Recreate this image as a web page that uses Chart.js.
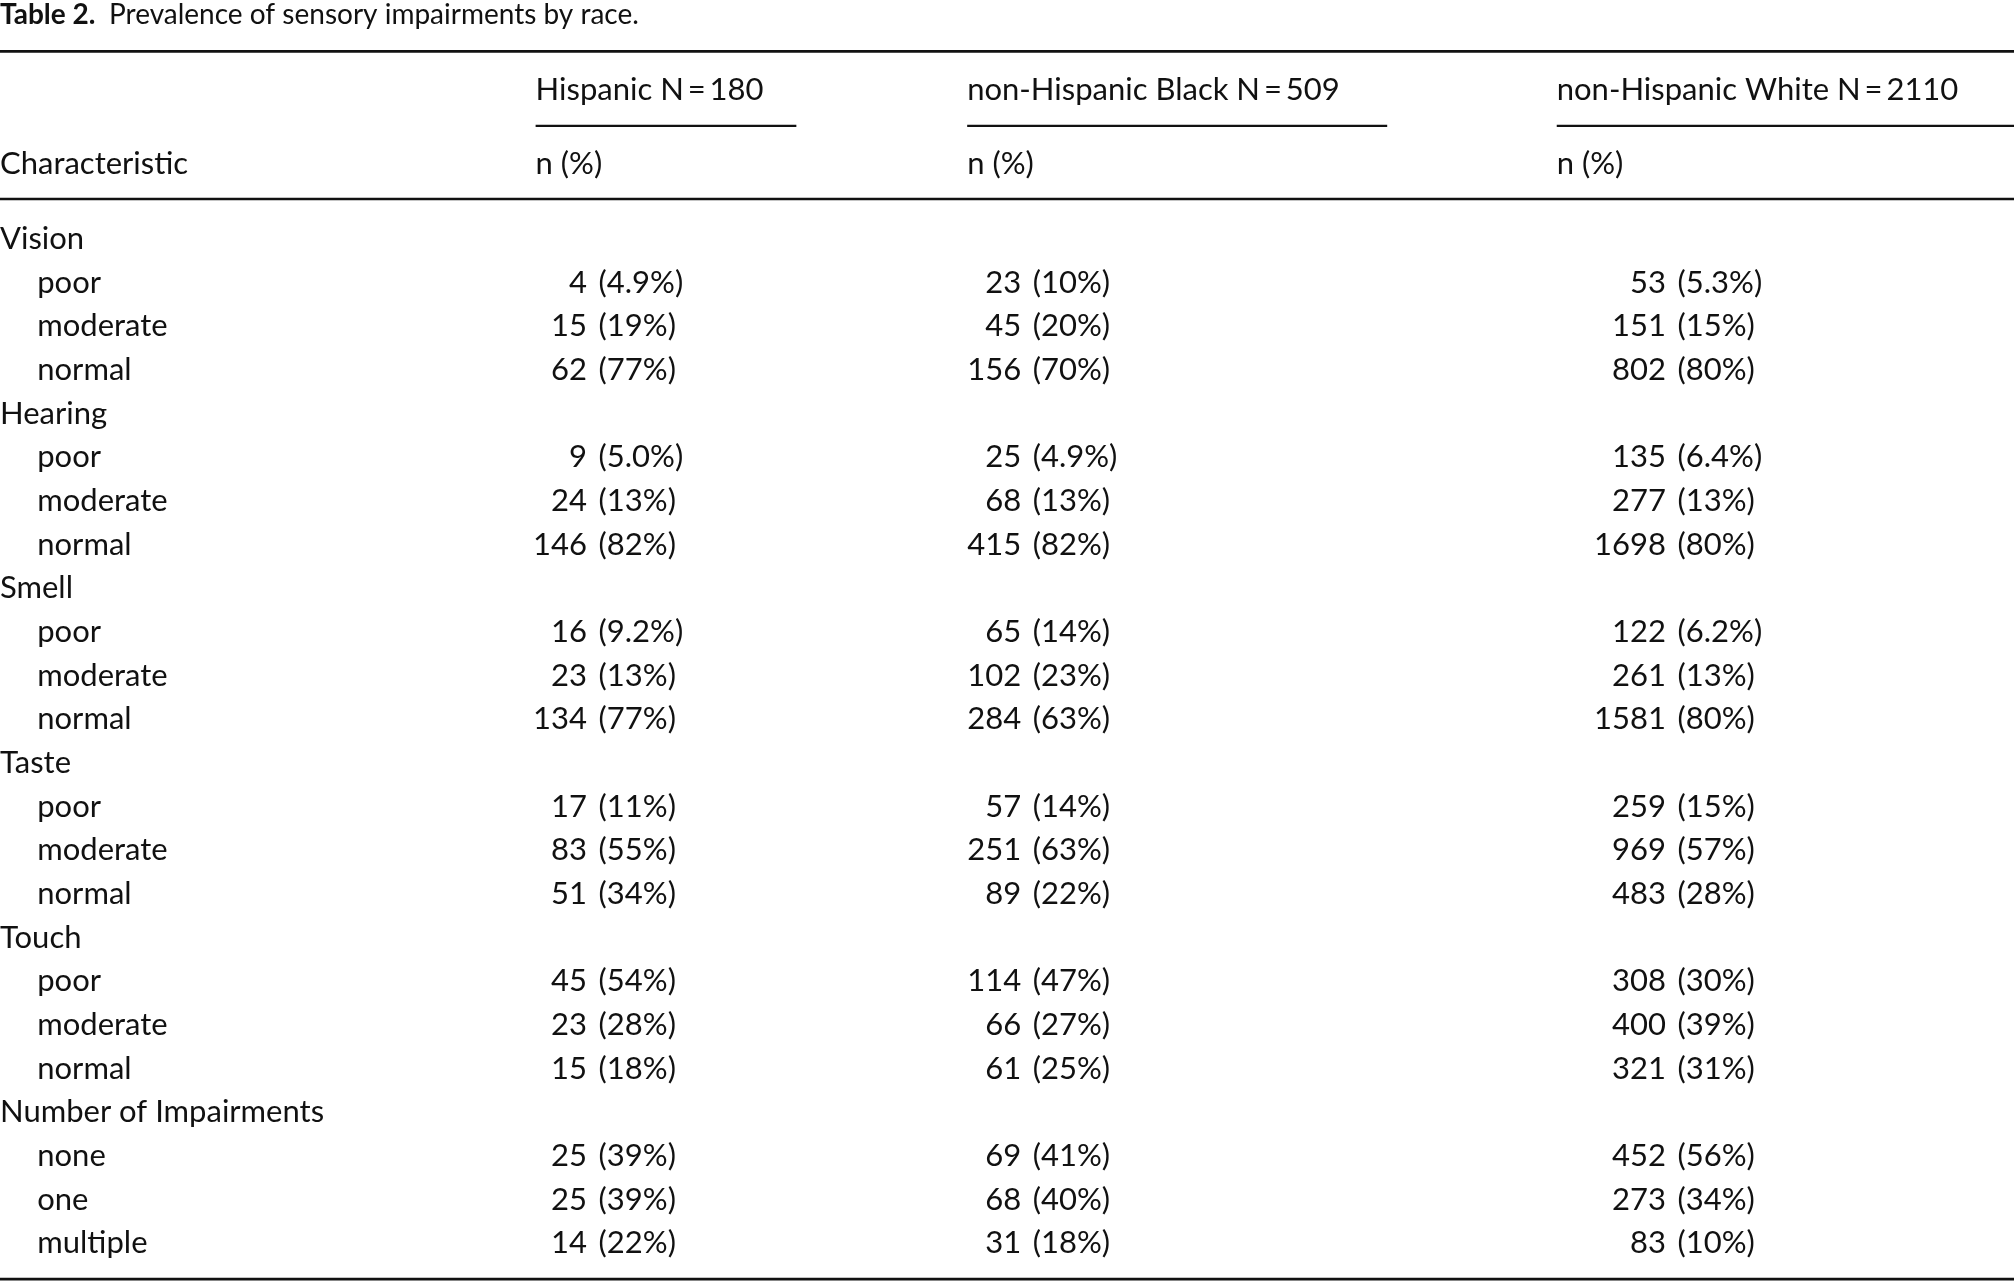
<!DOCTYPE html>
<html><head><meta charset="utf-8">
<script src="https://cdn.jsdelivr.net/npm/chart.js@4/dist/chart.umd.min.js"></script>
<style>html,body{margin:0;padding:0;background:#fff}#w{width:2014px;height:1283px}</style>
</head><body><div id="w"><canvas id="c"></canvas></div>
<script>
const title = ["Table 2.", "Prevalence of sensory impairments by race."];
const groups = ["Hispanic N\u2009=\u2009180", "non-Hispanic Black N\u2009=\u2009509", "non-Hispanic White N\u2009=\u20092110"];
const rowLabels = ["Vision","poor","moderate","normal","Hearing","poor","moderate","normal","Smell","poor","moderate","normal","Taste","poor","moderate","normal","Touch","poor","moderate","normal","Number of Impairments","none","one","multiple"];
const isSection = [1,0,0,0,1,0,0,0,1,0,0,0,1,0,0,0,1,0,0,0,1,0,0,0];
const hispN = ["", "4","15","62","", "9","24","146","", "16","23","134","", "17","83","51","", "45","23","15","", "25","25","14"];
const hispP = ["", "4.9%","19%","77%","", "5.0%","13%","82%","", "9.2%","13%","77%","", "11%","55%","34%","", "54%","28%","18%","", "39%","39%","22%"];
const blackN = ["", "23","45","156","", "25","68","415","", "65","102","284","", "57","251","89","", "114","66","61","", "69","68","31"];
const blackP = ["", "10%","20%","70%","", "4.9%","13%","82%","", "14%","23%","63%","", "14%","63%","22%","", "47%","27%","25%","", "41%","40%","18%"];
const whiteN = ["", "53","151","802","", "135","277","1698","", "122","261","1581","", "259","969","483","", "308","400","321","", "452","273","83"];
const whiteP = ["", "5.3%","15%","80%","", "6.4%","13%","80%","", "6.2%","13%","80%","", "15%","57%","28%","", "30%","39%","31%","", "56%","34%","10%"];

const FONT = "Lato, 'Open Sans', sans-serif";
const tablePlugin = {
  id: 'table',
  afterDraw(chart) {
    const {ctx, scales:{x, y}} = chart;
    const X = v => x.getPixelForValue(v), Y = v => y.getPixelForValue(v);
    const k = X(1) - X(0);
    const fs = Math.round(24.5 * k);
    ctx.save();
    ctx.fillStyle = '#111'; ctx.strokeStyle = '#111';
    ctx.textBaseline = 'middle';
    const text = (s, xx, yy, align, bold, size) => {
      ctx.font = (bold ? 'bold ' : '') + Math.round((size||24.5)*k) + 'px ' + FONT;
      ctx.textAlign = align; ctx.fillText(s, X(xx), Y(yy));
    };
    const hline = (x0, x1, yy, w) => {
      ctx.lineWidth = w*k; ctx.beginPath(); ctx.moveTo(X(x0), Y(yy)); ctx.lineTo(X(x1), Y(yy)); ctx.stroke();
    };
    // title
    text(title[0], 0, 12, 'left', true, 22);
    ctx.font = 'bold ' + Math.round(22*k) + 'px ' + FONT;
    const tw = ctx.measureText(title[0] + '  ').width / k;
    text(title[1], tw, 12, 'left', false, 22);
    hline(0, 1568, 40, 2);
    const gx = [417, 753, 1212], ge = [620, 1080, 1568];
    groups.forEach((g, i) => { text(g, gx[i], 70, 'left'); hline(gx[i], ge[i], 98, 1.6); text('n (%)', gx[i], 128, 'left'); });
    text('Characteristic', 0, 128, 'left');
    hline(0, 1568, 155, 2);
    const nx = [457, 795, 1297];
    const cols = [[hispN, hispP], [blackN, blackP], [whiteN, whiteP]];
    rowLabels.forEach((lab, i) => {
      const yy = 186 + i * 34;
      text(lab, isSection[i] ? 0 : 29, yy, 'left');
      cols.forEach(([n, p], j) => {
        if (!n[i]) return;
        text(n[i], nx[j], yy, 'right');
        text('(' + p[i] + ')', nx[j] + 9, yy, 'left');
      });
    });
    hline(0, 1568, 996, 2);
    ctx.restore();
  }
};

new Chart(document.getElementById('c'), {
  type: 'scatter',
  data: { datasets: [{ data: [] }] },
  options: {
    responsive: true, maintainAspectRatio: false, animation: false,
    layout: { padding: 0 },
    plugins: { legend: { display: false }, tooltip: { enabled: false } },
    scales: {
      x: { type: 'linear', min: 0, max: 1568, display: false },
      y: { type: 'linear', min: 0, max: 999, reverse: true, display: false }
    }
  },
  plugins: [tablePlugin]
});
</script></body></html>
